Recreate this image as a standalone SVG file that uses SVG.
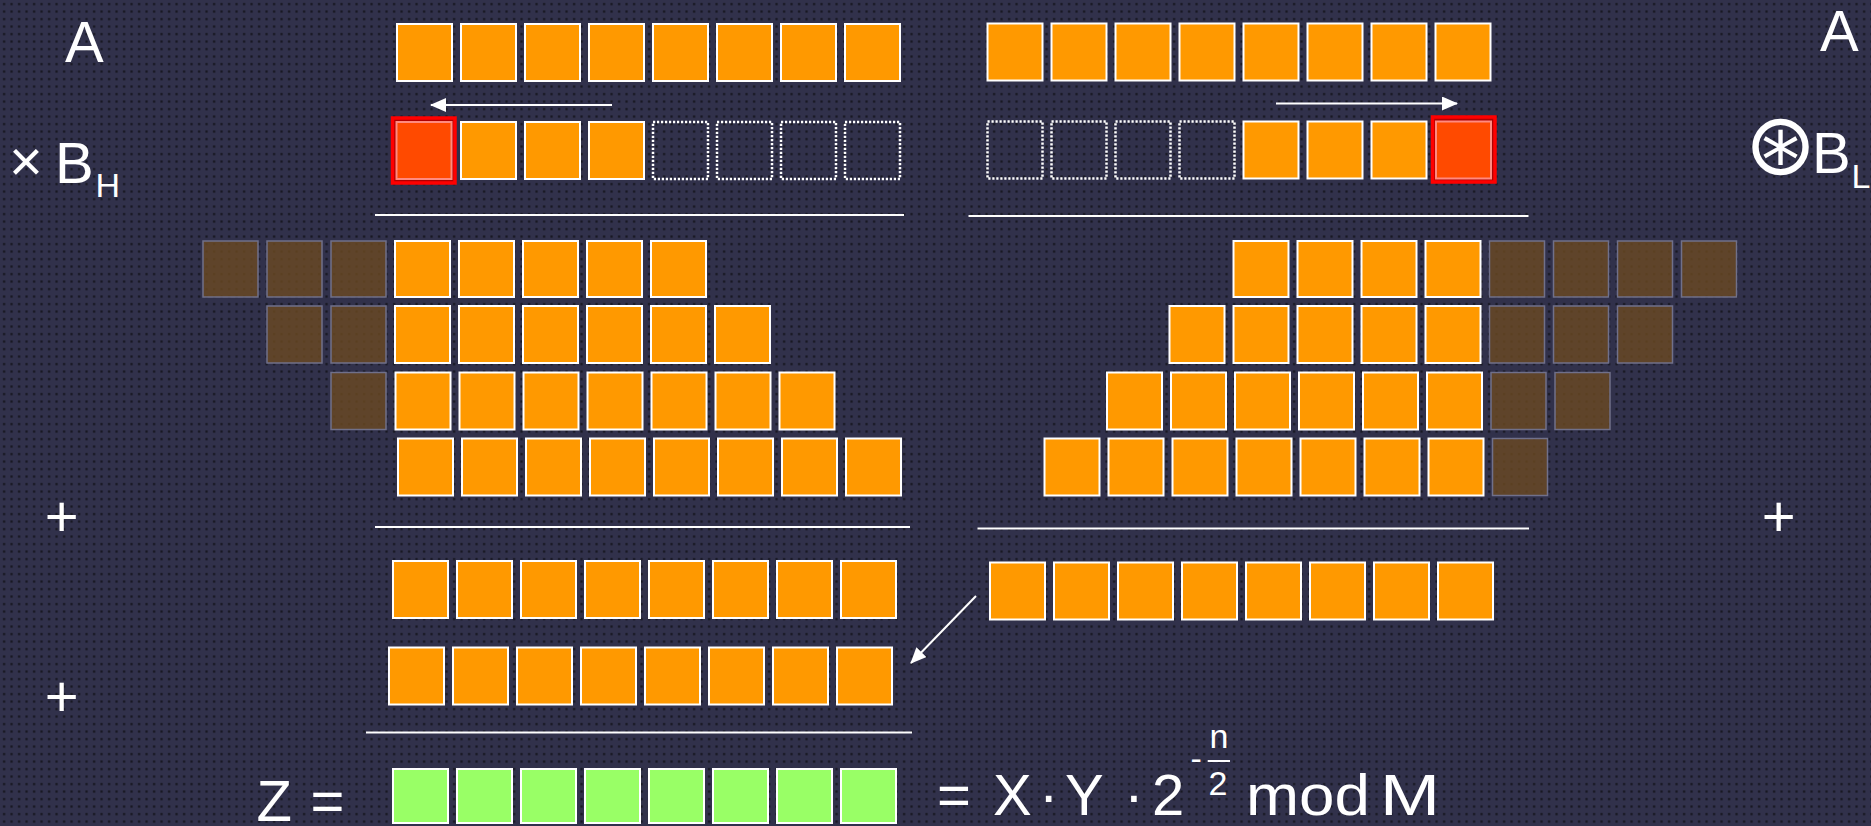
<svg xmlns="http://www.w3.org/2000/svg" width="1871" height="826" viewBox="0 0 1871 826">
<defs>
<pattern id="dots" width="7.5" height="7.5" patternUnits="userSpaceOnUse">
<rect width="7.5" height="7.5" fill="#31314b"/>
<rect x="3" y="3" width="2.2" height="2.2" fill="#15151e"/>
</pattern>
<marker id="ah" viewBox="0 0 16 14" refX="15" refY="7" markerWidth="16" markerHeight="14" markerUnits="userSpaceOnUse" orient="auto">
<path d="M0,0 L16,7 L0,14 z" fill="#ffffff"/>
</marker>
</defs>
<style>
.o{fill:#ff9900;stroke:#ffffff;stroke-width:2}
.b{fill:#6b4a22;fill-opacity:0.8;stroke:#70708a;stroke-width:1.5}
.g{fill:#99ff66;stroke:#ffffff;stroke-width:2}
.d{fill:none;stroke:#ffffff;stroke-width:2.5;stroke-dasharray:2.2 1.8}
.rout{fill:#b00000;stroke:#ff0000;stroke-width:3.5}
.rin{fill:#ff4a00;stroke:#ff8a80;stroke-width:2}
.sep{stroke:#ffffff;stroke-width:2}
.ar{stroke:#ffffff;stroke-width:2;fill:none}
.t{font-family:"Liberation Sans",Arial,sans-serif;font-size:58px;fill:#ffffff}
.s{font-family:"Liberation Sans",Arial,sans-serif;font-size:34px;fill:#ffffff}
.m{font-family:"DejaVu Sans",sans-serif;font-size:86px;fill:#ffffff}
</style>
<rect width="1871" height="826" fill="url(#dots)"/>

<g id="labels">
<text class="t" x="65" y="62">A</text>
<text class="t" x="1820" y="51">A</text>
<text class="t" x="9" y="181">×</text>
<text class="t" x="55" y="183">B</text>
<text class="s" x="95.5" y="197">H</text>
<text class="m" x="1780.5" y="174" text-anchor="middle">⊛</text>
<text class="t" x="1812" y="173">B</text>
<text class="s" x="1851.5" y="188">L</text>
<text class="t" x="61.7" y="535.7" text-anchor="middle">+</text>
<text class="t" x="61.7" y="716.4" text-anchor="middle">+</text>
<text class="t" x="1778.6" y="535.7" text-anchor="middle">+</text>
<text class="t" x="256.5" y="821">Z</text>
<text class="t" x="310.5" y="821">=</text>
</g>

<g id="formula">
<text class="t" x="937" y="815">=</text>
<text class="t" x="993" y="815">X</text>
<text class="t" x="1048.6" y="815" text-anchor="middle">·</text>
<text class="t" x="1065" y="815">Y</text>
<text class="t" x="1134" y="815" text-anchor="middle">·</text>
<text class="t" x="1152" y="815">2</text>
<text class="s" x="1190.5" y="770" font-size="33">-</text>
<line class="sep" x1="1207.7" y1="761" x2="1230" y2="761"/>
<text class="s" x="1219" y="748.3" font-size="35" text-anchor="middle">n</text>
<text class="s" x="1218" y="795" font-size="32" text-anchor="middle">2</text>
<text class="t" x="1246" y="815" textLength="124" lengthAdjust="spacingAndGlyphs">mod</text>
<text class="t" x="1380" y="815" textLength="60" lengthAdjust="spacingAndGlyphs">M</text>
</g>

<g id="row-A-left">
<rect class="o" x="397" y="24" width="55" height="57"/>
<rect class="o" x="461" y="24" width="55" height="57"/>
<rect class="o" x="525" y="24" width="55" height="57"/>
<rect class="o" x="589" y="24" width="55" height="57"/>
<rect class="o" x="653" y="24" width="55" height="57"/>
<rect class="o" x="717" y="24" width="55" height="57"/>
<rect class="o" x="781" y="24" width="55" height="57"/>
<rect class="o" x="845" y="24" width="55" height="57"/>
</g>
<g id="row-A-right">
<rect class="o" x="987.5" y="23.5" width="55" height="57"/>
<rect class="o" x="1051.5" y="23.5" width="55" height="57"/>
<rect class="o" x="1115.5" y="23.5" width="55" height="57"/>
<rect class="o" x="1179.5" y="23.5" width="55" height="57"/>
<rect class="o" x="1243.5" y="23.5" width="55" height="57"/>
<rect class="o" x="1307.5" y="23.5" width="55" height="57"/>
<rect class="o" x="1371.5" y="23.5" width="55" height="57"/>
<rect class="o" x="1435.5" y="23.5" width="55" height="57"/>
</g>

<g id="row-BH">
<rect class="rout" x="392.5" y="118" width="62.5" height="65"/>
<rect class="rin" x="396.5" y="122" width="55" height="57"/>
<rect class="o" x="461" y="122" width="55" height="57"/>
<rect class="o" x="525" y="122" width="55" height="57"/>
<rect class="o" x="589" y="122" width="55" height="57"/>
<rect class="d" x="653" y="122" width="55" height="57"/>
<rect class="d" x="717" y="122" width="55" height="57"/>
<rect class="d" x="781" y="122" width="55" height="57"/>
<rect class="d" x="845" y="122" width="55" height="57"/>
</g>
<g id="row-BL">
<rect class="d" x="987.5" y="121.5" width="55" height="57"/>
<rect class="d" x="1051.5" y="121.5" width="55" height="57"/>
<rect class="d" x="1115.5" y="121.5" width="55" height="57"/>
<rect class="d" x="1179.5" y="121.5" width="55" height="57"/>
<rect class="o" x="1243.5" y="121.5" width="55" height="57"/>
<rect class="o" x="1307.5" y="121.5" width="55" height="57"/>
<rect class="o" x="1371.5" y="121.5" width="55" height="57"/>
<rect class="rout" x="1432.5" y="117" width="62.5" height="65"/>
<rect class="rin" x="1436" y="121.5" width="55" height="57"/>
</g>

<g id="partial-left">
<rect class="b" x="203" y="241" width="55" height="56"/>
<rect class="b" x="267" y="241" width="55" height="56"/>
<rect class="b" x="331" y="241" width="55" height="56"/>
<rect class="o" x="395" y="241" width="55" height="56"/>
<rect class="o" x="459" y="241" width="55" height="56"/>
<rect class="o" x="523" y="241" width="55" height="56"/>
<rect class="o" x="587" y="241" width="55" height="56"/>
<rect class="o" x="651" y="241" width="55" height="56"/>

<rect class="b" x="267" y="306" width="55" height="57"/>
<rect class="b" x="331" y="306" width="55" height="57"/>
<rect class="o" x="395" y="306" width="55" height="57"/>
<rect class="o" x="459" y="306" width="55" height="57"/>
<rect class="o" x="523" y="306" width="55" height="57"/>
<rect class="o" x="587" y="306" width="55" height="57"/>
<rect class="o" x="651" y="306" width="55" height="57"/>
<rect class="o" x="715" y="306" width="55" height="57"/>

<rect class="b" x="331" y="372.5" width="55" height="57"/>
<rect class="o" x="395.5" y="372.5" width="55" height="57"/>
<rect class="o" x="459.5" y="372.5" width="55" height="57"/>
<rect class="o" x="523.5" y="372.5" width="55" height="57"/>
<rect class="o" x="587.5" y="372.5" width="55" height="57"/>
<rect class="o" x="651.5" y="372.5" width="55" height="57"/>
<rect class="o" x="715.5" y="372.5" width="55" height="57"/>
<rect class="o" x="779.5" y="372.5" width="55" height="57"/>

<rect class="o" x="398" y="438.5" width="55" height="57"/>
<rect class="o" x="462" y="438.5" width="55" height="57"/>
<rect class="o" x="526" y="438.5" width="55" height="57"/>
<rect class="o" x="590" y="438.5" width="55" height="57"/>
<rect class="o" x="654" y="438.5" width="55" height="57"/>
<rect class="o" x="718" y="438.5" width="55" height="57"/>
<rect class="o" x="782" y="438.5" width="55" height="57"/>
<rect class="o" x="846" y="438.5" width="55" height="57"/>
</g>

<g id="partial-right">
<rect class="o" x="1233.5" y="241" width="55" height="56"/>
<rect class="o" x="1297.5" y="241" width="55" height="56"/>
<rect class="o" x="1361.5" y="241" width="55" height="56"/>
<rect class="o" x="1425.5" y="241" width="55" height="56"/>
<rect class="b" x="1489.5" y="241" width="55" height="56"/>
<rect class="b" x="1553.5" y="241" width="55" height="56"/>
<rect class="b" x="1617.5" y="241" width="55" height="56"/>
<rect class="b" x="1681.5" y="241" width="55" height="56"/>

<rect class="o" x="1169.5" y="306" width="55" height="57"/>
<rect class="o" x="1233.5" y="306" width="55" height="57"/>
<rect class="o" x="1297.5" y="306" width="55" height="57"/>
<rect class="o" x="1361.5" y="306" width="55" height="57"/>
<rect class="o" x="1425.5" y="306" width="55" height="57"/>
<rect class="b" x="1489.5" y="306" width="55" height="57"/>
<rect class="b" x="1553.5" y="306" width="55" height="57"/>
<rect class="b" x="1617.5" y="306" width="55" height="57"/>

<rect class="o" x="1107" y="372.5" width="55" height="57"/>
<rect class="o" x="1171" y="372.5" width="55" height="57"/>
<rect class="o" x="1235" y="372.5" width="55" height="57"/>
<rect class="o" x="1299" y="372.5" width="55" height="57"/>
<rect class="o" x="1363" y="372.5" width="55" height="57"/>
<rect class="o" x="1427" y="372.5" width="55" height="57"/>
<rect class="b" x="1491" y="372.5" width="55" height="57"/>
<rect class="b" x="1555" y="372.5" width="55" height="57"/>

<rect class="o" x="1044.5" y="438.5" width="55" height="57"/>
<rect class="o" x="1108.5" y="438.5" width="55" height="57"/>
<rect class="o" x="1172.5" y="438.5" width="55" height="57"/>
<rect class="o" x="1236.5" y="438.5" width="55" height="57"/>
<rect class="o" x="1300.5" y="438.5" width="55" height="57"/>
<rect class="o" x="1364.5" y="438.5" width="55" height="57"/>
<rect class="o" x="1428.5" y="438.5" width="55" height="57"/>
<rect class="b" x="1492.5" y="438.5" width="55" height="57"/>
</g>

<g id="sum-left">
<rect class="o" x="393" y="561" width="55" height="57"/>
<rect class="o" x="457" y="561" width="55" height="57"/>
<rect class="o" x="521" y="561" width="55" height="57"/>
<rect class="o" x="585" y="561" width="55" height="57"/>
<rect class="o" x="649" y="561" width="55" height="57"/>
<rect class="o" x="713" y="561" width="55" height="57"/>
<rect class="o" x="777" y="561" width="55" height="57"/>
<rect class="o" x="841" y="561" width="55" height="57"/>
</g>
<g id="sum-right">
<rect class="o" x="990" y="562.5" width="55" height="57"/>
<rect class="o" x="1054" y="562.5" width="55" height="57"/>
<rect class="o" x="1118" y="562.5" width="55" height="57"/>
<rect class="o" x="1182" y="562.5" width="55" height="57"/>
<rect class="o" x="1246" y="562.5" width="55" height="57"/>
<rect class="o" x="1310" y="562.5" width="55" height="57"/>
<rect class="o" x="1374" y="562.5" width="55" height="57"/>
<rect class="o" x="1438" y="562.5" width="55" height="57"/>
</g>
<g id="shifted">
<rect class="o" x="389" y="647.5" width="55" height="57"/>
<rect class="o" x="453" y="647.5" width="55" height="57"/>
<rect class="o" x="517" y="647.5" width="55" height="57"/>
<rect class="o" x="581" y="647.5" width="55" height="57"/>
<rect class="o" x="645" y="647.5" width="55" height="57"/>
<rect class="o" x="709" y="647.5" width="55" height="57"/>
<rect class="o" x="773" y="647.5" width="55" height="57"/>
<rect class="o" x="837" y="647.5" width="55" height="57"/>
</g>
<g id="result-Z">
<rect class="g" x="393" y="769" width="55" height="54"/>
<rect class="g" x="457" y="769" width="55" height="54"/>
<rect class="g" x="521" y="769" width="55" height="54"/>
<rect class="g" x="585" y="769" width="55" height="54"/>
<rect class="g" x="649" y="769" width="55" height="54"/>
<rect class="g" x="713" y="769" width="55" height="54"/>
<rect class="g" x="777" y="769" width="55" height="54"/>
<rect class="g" x="841" y="769" width="55" height="54"/>
</g>

<g id="connectors">
<line class="sep" x1="375" y1="215" x2="904" y2="215"/>
<line class="sep" x1="968.5" y1="216" x2="1528.5" y2="216"/>
<line class="sep" x1="375" y1="527" x2="910" y2="527"/>
<line class="sep" x1="977.5" y1="528.5" x2="1529" y2="528.5"/>
<line class="sep" x1="366" y1="732.5" x2="912" y2="732.5"/>
<line class="ar" x1="612" y1="105" x2="431" y2="105" marker-end="url(#ah)"/>
<line class="ar" x1="1276" y1="103.5" x2="1457" y2="103.5" marker-end="url(#ah)"/>
<line class="ar" x1="976" y1="596" x2="911" y2="663" marker-end="url(#ah)"/>
</g>
</svg>
